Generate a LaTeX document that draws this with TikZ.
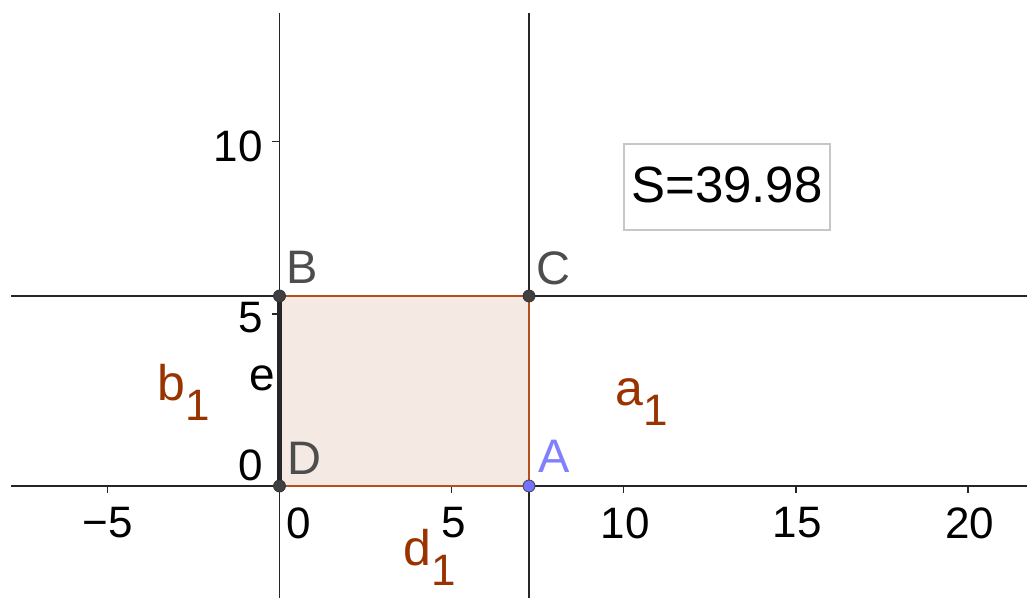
\documentclass[tikz,border=0pt]{standalone}
\usepackage{fontspec}
\setmainfont{Liberation Sans}
\definecolor{ggbrown}{RGB}{153,51,0}
\definecolor{ggedge}{RGB}{180,80,30}
\definecolor{ggfill}{RGB}{245,233,227}
\definecolor{gglabel}{RGB}{77,77,77}
\definecolor{ggblue}{RGB}{128,128,255}
\definecolor{ggpt}{RGB}{64,64,64}
\definecolor{ggaxis}{RGB}{37,37,37}
\tikzset{
  axisline/.style={draw=ggaxis, line width=1.6bp},
  gline/.style={draw=black!85, line width=1.5bp},
  edge/.style={draw=ggedge, line width=1.4bp},
  tickmark/.style={draw=ggaxis, line width=1.3bp},
  ticklabel/.style={font=\fontsize{44bp}{44bp}\selectfont, inner sep=0pt},
  ptlabel/.style={font=\fontsize{47bp}{47bp}\selectfont, inner sep=0pt, text=gglabel},
  seglabel/.style={font=\fontsize{50bp}{50bp}\selectfont, inner sep=0pt, text=ggbrown, anchor=base west},
  ptdot/.style={circle, fill=ggpt, draw=black!80, line width=0.8bp, minimum size=12bp, inner sep=0pt},
  ptdotA/.style={circle, fill=ggblue!90!blue, draw=ggpt, line width=0.8bp, minimum size=12bp, inner sep=0pt},
}
\newcommand{\subone}{\raisebox{-20bp}{\fontsize{44bp}{44bp}\selectfont 1}}
\begin{document}
\begin{tikzpicture}[x=1bp, y=-1bp]
\useasboundingbox (0,0) rectangle (1027,598);
% frame coordinates
\coordinate (xl) at (11,486);
\coordinate (xr) at (1027,486);
\coordinate (yt) at (279.5,13);
\coordinate (yb) at (279.5,598);
\coordinate (hl) at (11,296);
\coordinate (hr) at (1027,296);
\coordinate (vt) at (529,13);
\coordinate (vb) at (529,598);
\coordinate (D) at (279.5,486);
\coordinate (B) at (279.5,296);
\coordinate (C) at (529,296);
\coordinate (A) at (529,486);
% polygon fill
\fill[ggfill] (D) -- (A) -- (C) -- (B) -- cycle;
% axes
\draw[axisline] (xl) -- (xr);
\draw[axisline] (yt) -- (yb);
% x ticks
\foreach \t in {-5,5,10,15,20}{
  \draw[tickmark] ({279.5+34.43*\t},486) -- ({279.5+34.43*\t},493);
}
% y ticks
\foreach \t in {5,10}{
  \draw[tickmark] (272,{486-34.43*\t}) -- (279.5,{486-34.43*\t});
}
% tick labels
\node[ticklabel] (xm5) at (107.5,523) {−5};
\node[ticklabel] (x0) at (298.5,523) {0};
\node[ticklabel] (x5) at (453.5,523) {5};
\node[ticklabel] (x10) at (625,523) {10};
\node[ticklabel] (x15) at (797,523) {15};
\node[ticklabel] (x20) at (969.5,523) {20};
\node[ticklabel, anchor=east] (y10) at (263,146) {10};
\node[ticklabel, anchor=east] (y5) at (263,318) {5};
\node[ticklabel, anchor=east] (y0) at (263,465) {0};
% lines through C
\draw[gline] (hl) -- (hr);
\draw[gline] (vt) -- (vb);
% polygon edges
\draw[edge] (B) -- (C) -- (A) -- (D);
% segment e
\draw[black!85, line width=4.5bp] (D) -- (B);
% points
\node[ptdot] (pD) at (D) {};
\node[ptdot] (pB) at (B) {};
\node[ptdot] (pC) at (C) {};
\node[ptdotA] (pA) at (A) {};
% point labels
\node[ptlabel] (lB) at (302.5,267) {B};
\node[ptlabel] (lC) at (553,268) {C};
\node[ptlabel] (lD) at (304,458) {D};
\node[ptlabel, text=ggblue] (lA) at (554,456) {A};
\node[font=\fontsize{46bp}{46bp}\selectfont, inner sep=0pt] (le) at (262,378) {e};
% segment labels
\node[seglabel] (la1) at (615,405) {a\subone};
\node[seglabel] (lb1) at (157,400) {b\subone};
\node[seglabel] (ld1) at (403,565) {d\subone};
% area box
\node[draw=black!22, line width=1.2bp, minimum width=206bp, minimum height=86bp, inner sep=0pt,
      font=\fontsize{51bp}{51bp}\selectfont] (box) at (727,187) {\raisebox{5bp}{S=39.98}};
\end{tikzpicture}
\end{document}
